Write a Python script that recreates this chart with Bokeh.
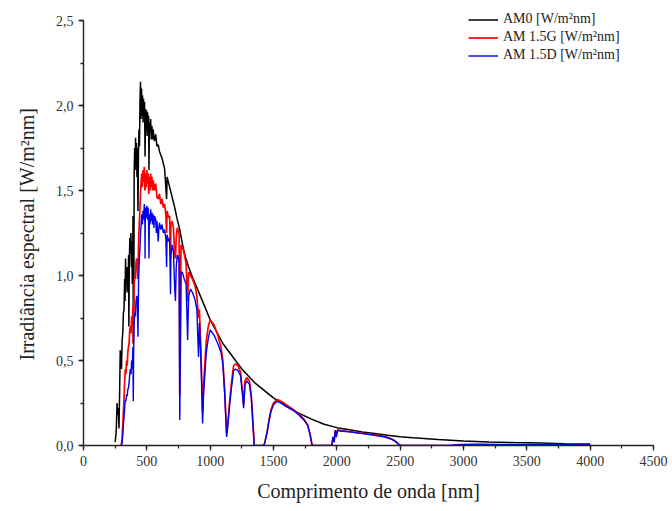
from bokeh.plotting import figure
from bokeh.models import Range1d, SingleIntervalTicker, CustomJSTickFormatter, Legend, LegendItem, Title
from bokeh.embed import file_html
from bokeh.resources import INLINE

# ---------------- data ----------------
# AM0 extraterrestrial spectrum
wl_am0 = [250, 258, 265, 270, 275, 280, 285, 290, 295, 300,
          305, 310, 315, 320, 325, 328, 332, 336, 340, 344,
          348, 352, 356, 358, 362, 366, 370, 374, 378, 382,
          385, 388, 391, 393, 396, 397, 400, 404, 408, 411,
          414, 418, 422, 426, 430, 434, 438, 442, 446, 450,
          454, 458, 462, 466, 470, 474, 478, 482, 486, 490,
          494, 498, 502, 506, 510, 514, 517, 520, 525, 530,
          535, 540, 545, 550, 560, 570, 580, 590, 600, 620,
          640, 656, 660, 680, 700, 720, 740, 760, 780, 800,
          830, 860, 900, 950, 1000, 1050, 1100, 1150, 1200, 1250,
          1300, 1350, 1400, 1450, 1500, 1600, 1700, 1800, 1900, 2000,
          2100, 2200, 2300, 2400, 2500, 2600, 2800, 3000, 3200, 3400,
          3600, 3800, 4000]
irr_am0 = [0.02, 0.08, 0.25, 0.18, 0.22, 0.10, 0.30, 0.56, 0.52, 0.45,
           0.62, 0.66, 0.78, 0.80, 0.98, 0.85, 1.10, 0.95, 1.05, 0.90,
           1.05, 0.92, 1.12, 0.70, 1.10, 1.22, 1.15, 1.25, 1.05, 1.20,
           0.95, 1.10, 1.35, 0.60, 1.05, 0.70, 1.60, 1.75, 1.62, 1.81,
           1.66, 1.78, 1.58, 1.75, 1.38, 1.72, 1.86, 1.76, 2.02, 2.14,
           1.92, 2.10, 1.94, 2.06, 1.90, 2.04, 1.93, 2.02, 1.70, 1.98,
           1.86, 1.97, 1.82, 1.96, 1.86, 1.94, 1.62, 1.90, 1.84, 1.92,
           1.80, 1.88, 1.80, 1.86, 1.79, 1.83, 1.76, 1.77, 1.73, 1.69,
           1.63, 1.45, 1.58, 1.52, 1.46, 1.40, 1.33, 1.27, 1.19, 1.12,
           1.05, 0.99, 0.92, 0.83, 0.74, 0.67, 0.60, 0.55, 0.50, 0.45,
           0.41, 0.37, 0.34, 0.31, 0.28, 0.23, 0.19, 0.155, 0.125, 0.105,
           0.092, 0.08, 0.07, 0.06, 0.052, 0.045, 0.035, 0.027, 0.021, 0.017,
           0.014, 0.011, 0.009]

# AM 1.5G global spectrum
wl_am15g = [295, 300, 305, 310, 315, 320, 325, 330, 335, 340,
            345, 350, 355, 360, 365, 370, 375, 380, 385, 390,
            393, 396, 400, 405, 410, 415, 420, 425, 430, 435,
            440, 445, 450, 455, 460, 465, 470, 475, 480, 485,
            490, 495, 500, 505, 510, 515, 520, 525, 530, 535,
            540, 545, 550, 560, 570, 580, 590, 600, 610, 620,
            630, 640, 650, 656, 660, 670, 680, 687, 690, 700,
            710, 720, 726, 732, 740, 750, 755, 760, 765, 770,
            780, 795, 810, 822, 830, 845, 860, 880, 895, 908,
            915, 925, 933, 940, 948, 958, 970, 985, 1000, 1030,
            1060, 1085, 1100, 1115, 1130, 1140, 1155, 1170, 1185, 1200,
            1220, 1240, 1255, 1264, 1275, 1290, 1310, 1325, 1338, 1348,
            1425, 1435, 1450, 1465, 1480, 1500, 1530, 1560, 1600, 1650,
            1700, 1740, 1770, 1790, 1805, 1960, 1970, 1978, 1988, 1995,
            2005, 2030, 2100, 2200, 2300, 2380, 2420, 2450, 2470, 2490,
            2510, 2900, 2940, 2980, 3100, 3300, 3600, 4000]
irr_am15g = [0.0, 0.01, 0.05, 0.12, 0.20, 0.28, 0.38, 0.45, 0.42, 0.50,
             0.47, 0.55, 0.58, 0.60, 0.68, 0.70, 0.66, 0.76, 0.70, 0.82,
             0.60, 0.78, 0.95, 1.00, 0.98, 1.08, 1.10, 1.05, 0.98, 1.20,
             1.30, 1.38, 1.48, 1.55, 1.60, 1.52, 1.62, 1.55, 1.64, 1.50,
             1.60, 1.52, 1.62, 1.54, 1.60, 1.48, 1.58, 1.50, 1.60, 1.52,
             1.58, 1.50, 1.56, 1.50, 1.54, 1.46, 1.45, 1.48, 1.42, 1.45,
             1.40, 1.42, 1.36, 1.25, 1.38, 1.34, 1.35, 1.10, 1.30, 1.32,
             1.28, 1.12, 1.10, 1.22, 1.28, 1.26, 1.24, 0.30, 0.75, 1.18,
             1.17, 1.13, 1.07, 0.85, 1.02, 1.00, 0.98, 0.94, 0.88, 0.75,
             0.80, 0.60, 0.40, 0.20, 0.35, 0.48, 0.62, 0.70, 0.74, 0.71,
             0.65, 0.58, 0.50, 0.32, 0.07, 0.14, 0.27, 0.38, 0.47, 0.48,
             0.47, 0.43, 0.32, 0.24, 0.38, 0.40, 0.38, 0.29, 0.13, 0.0,
             0.0, 0.03, 0.08, 0.15, 0.21, 0.25, 0.27, 0.26, 0.24, 0.215,
             0.185, 0.155, 0.12, 0.06, 0.0, 0.0, 0.05, 0.02, 0.09, 0.05,
             0.09, 0.088, 0.082, 0.072, 0.062, 0.052, 0.042, 0.032, 0.02, 0.005,
             0.0, 0.0, 0.004, 0.006, 0.007, 0.006, 0.006, 0.006]

# AM 1.5D direct spectrum
wl_am15d = [300, 305, 310, 315, 320, 325, 330, 335, 340, 345,
            350, 355, 360, 365, 370, 375, 380, 385, 390, 393,
            396, 400, 405, 410, 415, 420, 425, 430, 435, 440,
            445, 450, 455, 460, 465, 470, 475, 480, 485, 486,
            488, 492, 496, 500, 505, 510, 514, 517, 520, 525,
            530, 535, 540, 545, 550, 556, 560, 570, 575, 580,
            590, 595, 600, 610, 620, 630, 640, 650, 656, 660,
            670, 680, 687, 690, 700, 710, 720, 726, 732, 740,
            750, 755, 760, 765, 770, 780, 795, 810, 822, 830,
            845, 860, 880, 895, 908, 915, 925, 933, 940, 948,
            958, 970, 985, 1000, 1030, 1060, 1085, 1100, 1115, 1130,
            1140, 1155, 1170, 1185, 1200, 1220, 1240, 1255, 1264, 1275,
            1290, 1310, 1325, 1338, 1348, 1425, 1435, 1450, 1465, 1480,
            1500, 1530, 1560, 1600, 1650, 1700, 1740, 1770, 1790, 1805,
            1960, 1970, 1978, 1988, 1995, 2005, 2030, 2100, 2200, 2300,
            2380, 2420, 2450, 2470, 2490, 2510, 2900, 2940, 2980, 3100,
            3300, 3600, 4000]
irr_am15d = [0.0, 0.02, 0.06, 0.12, 0.17, 0.22, 0.27, 0.26, 0.30, 0.29,
             0.33, 0.34, 0.37, 0.42, 0.45, 0.42, 0.50, 0.45, 0.58, 0.26,
             0.55, 0.72, 0.78, 0.76, 0.85, 0.88, 0.85, 0.64, 0.98, 1.08,
             1.15, 1.24, 1.30, 1.36, 1.30, 1.38, 1.33, 1.42, 1.30, 1.10,
             1.36, 1.40, 1.34, 1.41, 1.33, 1.40, 1.30, 1.10, 1.36, 1.30,
             1.39, 1.32, 1.37, 1.30, 1.36, 1.28, 1.35, 1.33, 1.25, 1.32,
             1.20, 1.28, 1.31, 1.27, 1.30, 1.25, 1.27, 1.22, 1.05, 1.24,
             1.20, 1.22, 0.89, 1.12, 1.18, 1.14, 0.92, 0.85, 1.05, 1.12,
             1.10, 1.08, 0.15, 0.55, 1.02, 1.02, 0.98, 0.95, 0.62, 0.88,
             0.92, 0.90, 0.86, 0.80, 0.52, 0.72, 0.55, 0.35, 0.13, 0.30,
             0.42, 0.55, 0.63, 0.68, 0.65, 0.60, 0.55, 0.48, 0.30, 0.05,
             0.12, 0.25, 0.35, 0.44, 0.45, 0.44, 0.41, 0.30, 0.22, 0.36,
             0.38, 0.36, 0.28, 0.12, 0.0, 0.0, 0.03, 0.08, 0.15, 0.20,
             0.24, 0.26, 0.25, 0.23, 0.21, 0.18, 0.15, 0.12, 0.06, 0.0,
             0.0, 0.05, 0.02, 0.09, 0.05, 0.09, 0.085, 0.08, 0.07, 0.06,
             0.05, 0.04, 0.03, 0.02, 0.005, 0.0, 0.0, 0.003, 0.005, 0.006,
             0.005, 0.005, 0.005]

series_labels = ["AM0 [W/m²nm]", "AM 1.5G [W/m²nm]", "AM 1.5D [W/m²nm]"]
x_title = "Comprimento de onda [nm]"
y_title = "Irradiância espectral [W/m²nm]"

assert len(wl_am0) == len(irr_am0)
assert len(wl_am15g) == len(irr_am15g)
assert len(wl_am15d) == len(irr_am15d)

# ---------------- figure ----------------
FONT = "Liberation Serif"
PX_PER_UNIT = 170.0
TOP_PAD = 16      # free pixels above the 2,5 tick (legend room)
p = figure(width=672, height=511, output_backend="svg", toolbar_location=None,
           x_range=Range1d(0, 4500),
           y_range=Range1d(0, 2.5 + TOP_PAD / PX_PER_UNIT),
           min_border_left=83, min_border_right=19, min_border_top=4,
           min_border_bottom=66)
p.outline_line_color = None
p.xgrid.visible = False
p.ygrid.visible = False
p.background_fill_color = "white"
p.border_fill_color = "white"

r0 = p.line(wl_am0, irr_am0, line_color="#000000", line_width=1.5)
r1 = p.line(wl_am15g, irr_am15g, line_color="#ff0000", line_width=1.7)
r2 = p.line(wl_am15d, irr_am15d, line_color="#0000ee", line_width=1.4)

p.xaxis.ticker = SingleIntervalTicker(interval=500, num_minor_ticks=2)
p.yaxis.ticker = SingleIntervalTicker(interval=0.5, num_minor_ticks=2)
p.yaxis.formatter = CustomJSTickFormatter(code="return tick.toFixed(1).replace('.', ',');")
p.yaxis.bounds = (0, 2.5)

for ax in (p.xaxis[0], p.yaxis[0]):
    ax.axis_line_color = "#222222"
    ax.axis_line_width = 1.4
    ax.major_tick_line_color = "#222222"
    ax.minor_tick_line_color = "#222222"
    ax.major_tick_line_width = 1.3
    ax.minor_tick_line_width = 1.3
    ax.major_tick_in = 0
    ax.major_tick_out = 5
    ax.minor_tick_in = 0
    ax.minor_tick_out = 3
    ax.major_label_text_font = FONT
    ax.major_label_text_font_size = "14px"
    ax.major_label_text_color = "#333333"
    ax.axis_label_text_font = FONT
    ax.axis_label_text_font_size = "20px"
    ax.axis_label_text_font_style = "normal"
    ax.axis_label_text_color = "#222222"

p.xaxis.axis_label = x_title
p.xaxis.axis_label_standoff = 11

# y title as a side-panel title so that it can be centred on the 0..2,5 span
ytitle = Title(text=y_title, align="left", offset=85, vertical_align="top",
               standoff=26, text_font=FONT, text_font_size="20px",
               text_font_style="normal", text_color="#222222")
p.add_layout(ytitle, "left")

legend = Legend(items=[LegendItem(label=series_labels[0], renderers=[r0]),
                       LegendItem(label=series_labels[1], renderers=[r1]),
                       LegendItem(label=series_labels[2], renderers=[r2])],
                location=(385, 382))
legend.border_line_color = None
legend.background_fill_alpha = 0
legend.padding = 0
legend.margin = 0
legend.spacing = 2
legend.glyph_width = 30
legend.glyph_height = 15
legend.label_height = 15
legend.label_standoff = 5
legend.label_text_font = FONT
legend.label_text_font_size = "14px"
legend.label_text_color = "#222222"
p.add_layout(legend)

open("out.html", "w").write(file_html(p, INLINE))
